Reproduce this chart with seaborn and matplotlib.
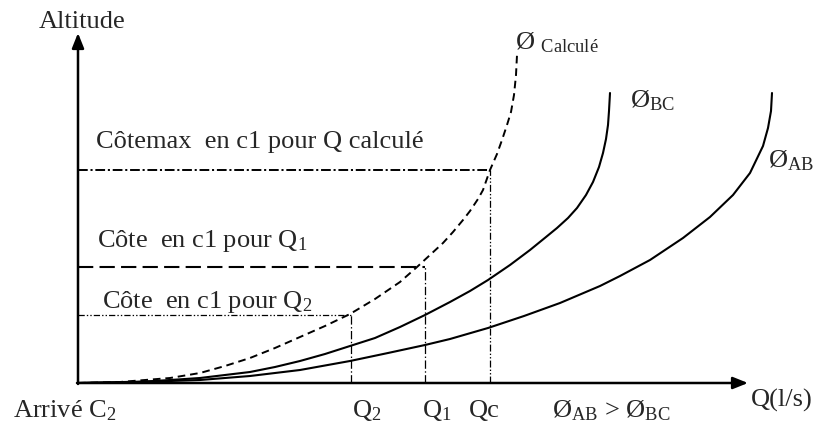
import numpy as np
import pandas as pd
import matplotlib
matplotlib.use("Agg")
import matplotlib.pyplot as plt
import seaborn as sns

# Courbes caractéristiques (unités schématiques : débit Q, altitude)
q_calc = [0, 42, 92, 122, 147, 172, 197, 222, 247, 272, 297, 322, 339, 352, 365, 375,
          385, 392, 400, 405, 412, 419, 424, 429, 433, 436, 438, 439]
alt_calc = [0, 1, 5, 10, 17, 25, 35, 46, 57, 69, 84, 101, 116, 128, 140, 151,
            163, 172, 184, 193, 213, 229, 243, 258, 271, 288, 308, 328]

q_bc = [0, 60, 92, 122, 147, 172, 197, 222, 247, 272, 297, 322, 347, 372, 392, 410,
        432, 452, 468, 479, 490, 499, 508, 515, 521, 525, 528, 530, 531, 532]
alt_bc = [0, 1, 3, 5, 8, 11, 16, 22, 29, 37, 45, 56, 68, 81, 92, 103,
          118, 133, 146, 155, 165, 175, 188, 201, 216, 230, 244, 258, 272, 290]

q_ab = [0, 92, 122, 172, 222, 272, 310, 347, 372, 410, 446, 482, 522, 542, 572, 605,
        632, 655, 672, 685, 690, 693, 694]
alt_ab = [0, 2, 3, 7, 13, 22, 30, 38, 44, 55, 67, 80, 97, 107, 123, 145,
          166, 188, 210, 237, 255, 272, 290]

# Débits et côtes repérés
q_2, q_1, q_c = 273, 347, 412
cote_q2, cote_q1, cote_max = 68, 116, 213

# Étendue des axes (flèches)
q_axis_end = 670
alt_axis_end = 350

sns.set_theme(style="white")
plt.rcParams['font.family'] = ['Liberation Serif', 'DejaVu Serif']
plt.rcParams['mathtext.fontset'] = 'custom'
plt.rcParams['mathtext.rm'] = 'Liberation Serif'
plt.rcParams['mathtext.it'] = 'Liberation Serif:italic'
plt.rcParams['mathtext.bf'] = 'Liberation Serif:bold'
plt.rcParams['lines.scale_dashes'] = False

fig = plt.figure(figsize=(8.21, 4.26), dpi=100)
ax = fig.add_axes([0, 0, 1, 1])
ax.set_xlim(-78, 743)
ax.set_ylim(-43, 383)
ax.axis('off')

# Courbes
sns.lineplot(x=q_calc, y=alt_calc, ax=ax, color='black', lw=1.4,
             linestyle=(0, (5.5, 3.5)), sort=False)
sns.lineplot(x=q_bc, y=alt_bc, ax=ax, color='black', lw=1.5, sort=False)
sns.lineplot(x=q_ab, y=alt_ab, ax=ax, color='black', lw=1.5, sort=False)

# Lignes de repère
ax.hlines(cote_max, 0, q_c, colors='black', lw=1.4, linestyles=[(0, (7, 2, 1.5, 2))])
ax.hlines(cote_q1, 0, q_1, colors='black', lw=1.5, linestyles=[(0, (11, 4.5))])
ax.hlines(cote_q2, 0, q_2, colors='black', lw=0.9,
          linestyles=[(0, (4.5, 1.5, 1, 1.5, 1, 1.5))])
ax.vlines(q_c, 0, cote_max, colors='black', lw=0.9,
          linestyles=[(0, (5, 1.5, 1, 1.5, 1, 1.5))])
ax.vlines(q_1, 0, cote_q1, colors='black', lw=0.9, linestyles=[(0, (6, 1.8, 1, 1.8))])
ax.vlines(q_2, 0, cote_q2, colors='black', lw=0.9, linestyles=[(0, (6, 1.8, 1, 1.8))])

# Axes avec flèches
arrow = dict(arrowstyle='-|>,head_length=0.5,head_width=0.2', lw=1.8, color='black',
             mutation_scale=18, shrinkA=0, shrinkB=0)
ax.annotate('', xy=(q_axis_end, 0), xytext=(-1, 0), arrowprops=arrow)
ax.annotate('', xy=(0, alt_axis_end), xytext=(0, -1), arrowprops=arrow)

fs = 19
ax.text(-39, 355, "Altitude", fontsize=fs, va='baseline')
ax.text(673, -24, "Q(l/s)", fontsize=fs, va='baseline')
ax.text(-65, -34, "Arrivé C$_2$", fontsize=fs, va='baseline')
ax.text(q_2 + 1, -34, "Q$_2$", fontsize=fs, va='baseline')
ax.text(q_1 - 3, -34, "Q$_1$", fontsize=fs, va='baseline')
ax.text(q_c - 21, -34, "Qc", fontsize=fs, va='baseline')
ax.text(474, -34, r"Ø$_{\mathrm{AB}}$ > Ø$_{\mathrm{BC}}$", fontsize=fs, va='baseline')

ax.text(18, 235, "Côtemax  en c1 pour Q calculé", fontsize=fs, va='baseline')
ax.text(19, 136, "Côte  en c1 pour Q$_1$", fontsize=fs, va='baseline')
ax.text(24, 75, "Côte  en c1 pour Q$_2$", fontsize=fs, va='baseline')

ax.text(437, 334, r"Ø $_{\mathrm{Calculé}}$", fontsize=fs, va='baseline')
ax.text(552, 276, r"Ø$_{\mathrm{BC}}$", fontsize=fs, va='baseline')
ax.text(690, 216, r"Ø$_{\mathrm{AB}}$", fontsize=fs, va='baseline')

fig.savefig("out.png", dpi=100)
